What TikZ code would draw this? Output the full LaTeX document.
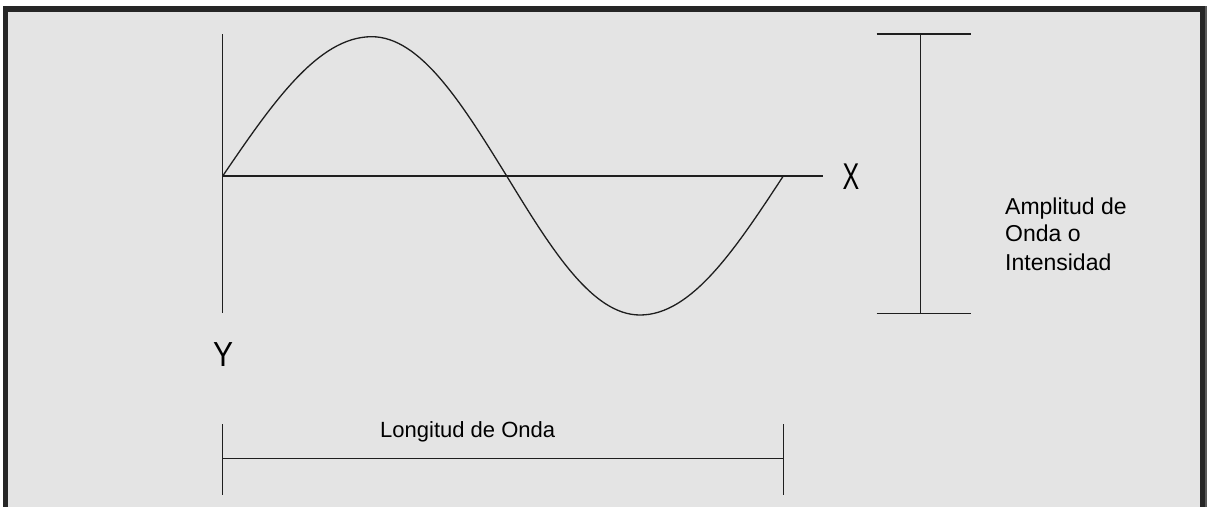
\documentclass[tikz,border=0pt]{standalone}
\usepackage{fontspec}
\setmainfont{Liberation Sans}
\definecolor{bgcol}{HTML}{E4E4E4}
\definecolor{framecol}{HTML}{262626}
\definecolor{linecol}{HTML}{1E1E1E}
\begin{document}
\begin{tikzpicture}[x=1pt,y=-1pt,
  line/.style={draw=linecol, line width=1.3pt},
  lbl/.style={inner sep=0pt, anchor=base west, text=black},
  small/.style={lbl, font=\fontsize{23}{28}\selectfont}]
\useasboundingbox (0,0) rectangle (1211,507);
\fill[white] (0,0) rectangle (1211,507);
\fill[framecol] (3,6) rectangle (1206,507);
\fill[gray!70!black] (1205,6) rectangle (1207,507);
\fill[bgcol] (8,12) rectangle (1200,507);
% axes
\coordinate (ytop) at (222.7,34);
\coordinate (ybot) at (222.7,313);
\coordinate (o) at (222.7,176);
\coordinate (xend) at (822.7,176);
\coordinate (peak) at (371.7,36.7);
\coordinate (cross) at (506.7,176);
\coordinate (trough) at (640,315);
\coordinate (wend) at (783.3,176);
\draw[line] (ytop) -- (ybot);
\draw[line] (o) -- (xend);
\draw[line] (o) .. controls (272.5,102.9) and (318.1,36.7) .. (peak)
  .. controls (420.3,36.7) and (461.6,102.9) .. (cross)
  .. controls (551.3,249) and (592,315) .. (trough)
  .. controls (691.6,315) and (735.4,249) .. (wend);
% amplitude bar
\coordinate (atop) at (920.7,34);
\coordinate (abot) at (920.7,313.7);
\coordinate (atl) at (876.7,34);
\coordinate (atr) at (970.7,34);
\coordinate (abl) at (876.7,313.7);
\coordinate (abr) at (970.7,313.7);
\draw[line] (atop) -- (abot);
\draw[line] (atl) -- (atr);
\draw[line] (abl) -- (abr);
% wavelength bar
\coordinate (l1t) at (222.7,424.3);
\coordinate (l1b) at (222.7,495.3);
\coordinate (l2t) at (783.3,424.3);
\coordinate (l2b) at (783.3,495.3);
\coordinate (lm1) at (222.7,458.8);
\coordinate (lm2) at (783.3,458.8);
\draw[line] (l1t) -- (l1b);
\draw[line] (l2t) -- (l2b);
\draw[line] (lm1) -- (lm2);
% labels
\node[lbl, font=\fontsize{25}{30}\selectfont] (xl) at (842.5,189.3) {\scalebox{1}[1.49]{X}};
\node[lbl, font=\fontsize{30}{34}\selectfont] (yl) at (213,366.7) {\scalebox{1}[1.16]{Y}};
\node[small] (a1) at (1005,214) {Amplitud de};
\node[small] (a2) at (1005,241.7) {Onda o};
\node[small] (a3) at (1005,270) {Intensidad};
\node[lbl, font=\fontsize{22}{26}\selectfont] (lw) at (380,437.3) {Longitud de Onda};
\end{tikzpicture}
\end{document}
